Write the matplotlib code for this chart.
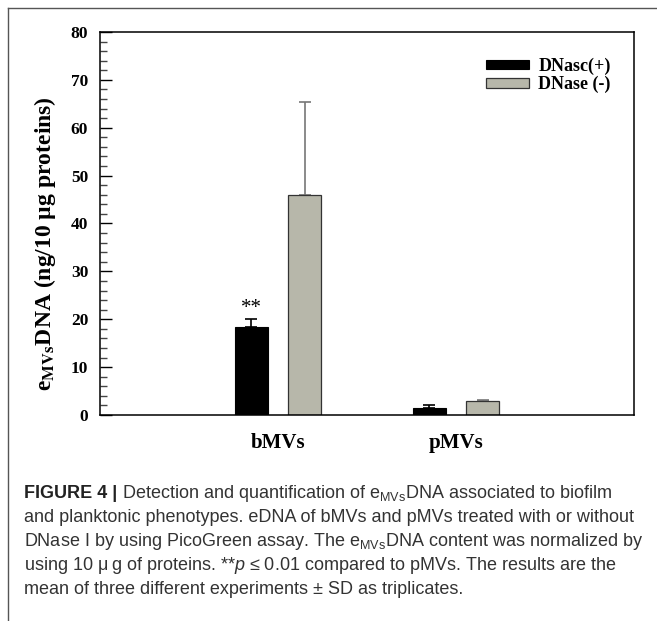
import matplotlib
matplotlib.use("Agg")
import matplotlib.pyplot as plt
from matplotlib.lines import Line2D
import numpy as np

groups = ["bMVs", "pMVs"]
dnase_plus = [18.3, 1.5]
dnase_plus_sd = [1.7, 0.5]
dnase_minus = [45.9, 2.9]
dnase_minus_sd = [19.5, 0.2]
series_labels = ["DNasc(+)", "DNase (-)"]

plt.rcParams["mathtext.fontset"] = "custom"
plt.rcParams["mathtext.rm"] = "Liberation Sans"
plt.rcParams["mathtext.it"] = "Liberation Sans:italic"

serif = "Liberation Serif"
grey = "#b7b7aa"

fig = plt.figure(figsize=(6.57, 6.21), dpi=100)
ax = fig.add_axes([100 / 657, 1 - 415 / 621, 534 / 657, 383 / 621])

x = np.arange(1, len(groups) + 1)
off = 0.149
w = 0.185

ax.bar(x - off, dnase_plus, w, color="black", edgecolor="black", linewidth=0.8,
       label=series_labels[0], zorder=2)
ax.errorbar(x - off, dnase_plus, yerr=[np.zeros(2), dnase_plus_sd], fmt="none",
            ecolor="black", elinewidth=1.2, capsize=4, capthick=1.2, zorder=3)
ax.bar(x + off, dnase_minus, w, color=grey, edgecolor="#333333", linewidth=0.9,
       label=series_labels[1], zorder=2)
ax.errorbar(x + off, dnase_minus, yerr=[np.zeros(2), dnase_minus_sd], fmt="none",
            ecolor="#777777", elinewidth=1.2, capsize=4, capthick=1.2, zorder=1)

# significance mark over bMVs DNase(+)
ax.annotate("**", (x[0] - off, dnase_plus[0] + dnase_plus_sd[0]), xytext=(0, 8),
            textcoords="offset points", ha="center", va="center",
            fontsize=15, family=serif)

ax.set_xlim(0, 3)
ax.set_ylim(0, 80)
ax.set_xticks(x)
ax.set_xticklabels(groups, fontsize=15, fontweight="bold", family=serif)
ax.tick_params(axis="x", length=0, pad=13)
ax.set_yticks(np.arange(0, 81, 10))
ax.set_yticks(np.arange(0, 81, 2), minor=True)
ax.tick_params(axis="y", which="major", direction="in", length=8.5, width=1, pad=8.5)
ax.tick_params(axis="y", which="minor", direction="in", length=5, width=1, color="#444444")
for lab in ax.get_yticklabels():
    lab.set_fontsize(12.5)
    lab.set_fontweight("bold")
    lab.set_family(serif)
for s in ax.spines.values():
    s.set_linewidth(1.1)

leg = ax.legend(loc="upper left", bbox_to_anchor=(0.706, 0.957), frameon=False,
                borderpad=0, handlelength=2.4, handleheight=0.42, handletextpad=0.5,
                labelspacing=0.07, prop={"family": serif, "weight": "bold", "size": 13})

fig.text(45 / 657, 1 - 244 / 621, r"e$_{\mathbf{MVs}}$DNA (ng/10 µg proteins)",
         rotation=90, ha="center", va="center", fontsize=17, fontweight="bold",
         family=serif, math_fontfamily="stix")

# outer panel frame (only top and left visible)
fig.add_artist(Line2D([8 / 657, 8 / 657], [0, 1 - 8 / 621], transform=fig.transFigure,
                      color="#555555", lw=1))
fig.add_artist(Line2D([8 / 657, 1], [1 - 8 / 621, 1 - 8 / 621], transform=fig.transFigure,
                      color="#555555", lw=1))

# caption
cap_size = 13
cap_col = "#333333"
cap_x = 24 / 657
lines = [
    " Detection and quantification of e$_{\\mathrm{MVs}}$DNA associated to biofilm",
    "and planktonic phenotypes. eDNA of bMVs and pMVs treated with or without",
    "DNase I by using PicoGreen assay. The e$_{\\mathrm{MVs}}$DNA content was normalized by",
    "using 10 \u03bc\u2009g of proteins. **$p$ \u2264 0.01 compared to pMVs. The results are the",
    "mean of three different experiments \u00b1 SD as triplicates.",
]
baselines = [498, 522, 546, 570, 594]

renderer = fig.canvas.get_renderer()
head = fig.text(cap_x, 1 - baselines[0] / 621, "FIGURE 4 |", fontsize=cap_size,
                fontweight="bold", family="Liberation Sans", color="#222222", va="baseline")
bb = head.get_window_extent(renderer)
for i, (t, b) in enumerate(zip(lines, baselines)):
    xx = bb.x1 / fig.bbox.width if i == 0 else cap_x
    fig.text(xx, 1 - b / 621, t, fontsize=cap_size, family="Liberation Sans",
             color=cap_col, va="baseline")

fig.savefig("out.png", dpi=100)
